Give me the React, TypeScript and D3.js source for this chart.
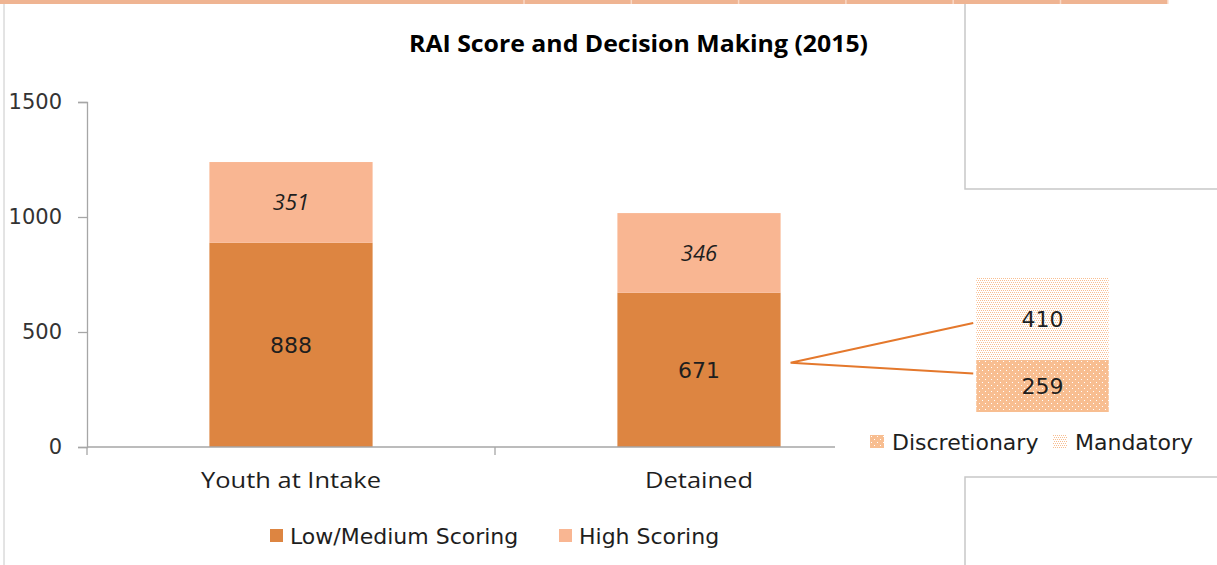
import React, { useEffect, useRef } from 'react';
import * as d3 from 'd3';

// chart values
const categories = ['Youth at Intake', 'Detained'];
const seriesNames = ['Low/Medium Scoring', 'High Scoring'];
const lowMedium = [888, 671];
const highScoring = [351, 346];
const yTicks = [0, 500, 1000, 1500];

const breakdownNames = ['Discretionary', 'Mandatory'];
const breakdownValues = [259, 410];

const W = 1217, H = 565;
const DARK = '#DD8541', LIGHT = '#F9B692', DISC = '#F8BE91', LINE = '#E4782C';
const AXIS = '#A6A6A6', TXT = '#1E1E1E';
const SANS = '"DejaVu Sans", Verdana, sans-serif';
const HUMAN = '"Open Sans", Lato, sans-serif';

export default function App() {
    const yAxisRef = useRef<SVGGElement>(null);

    const x = d3.scaleBand<string>().domain(categories).range([87, 903]).paddingInner(0.6).paddingOuter(0.3);
    const y = d3.scaleLinear().domain([0, 1500]).range([447, 102]);

    const rows = categories.map((c, i) => ({ cat: c, low: lowMedium[i], high: highScoring[i] }));
    const stacked = d3.stack<any>().keys(['low', 'high'])(rows);

    // inset chart for the detained breakdown
    const xi = d3.scaleBand<string>().domain(['Detained']).range([910, 1175]).paddingInner(0.5).paddingOuter(0.25);
    const yi = d3.scaleLinear().domain([0, 700]).range([412, 271.4]);
    const insetRow = [{ disc: breakdownValues[0], mand: breakdownValues[1] }];
    const insetStack = d3.stack<any>().keys(['disc', 'mand'])(insetRow);

    useEffect(() => {
        const g = d3.select(yAxisRef.current!);
        g.selectAll('*').remove();
        g.call(d3.axisLeft(y).tickValues(yTicks).tickSize(9).tickPadding(16).tickFormat(d3.format('d')) as any);
        g.selectAll('path, line').attr('stroke', AXIS).attr('stroke-width', 1.3);
        g.selectAll('text').attr('font-family', SANS).attr('font-size', 21).attr('fill', '#333');
    }, []);

    const step = x.step();
    const x0 = x.range()[0];
    const bounds = d3.range(categories.length + 1).map(i => x0 + i * step);

    const detX = x('Detained')! + x.bandwidth();
    const apex = [detX + 10, y(lowMedium[1] / 2) - 7];
    const insetLeft = xi('Detained')! - 3;
    const upperEnd = [insetLeft, yi(breakdownValues[0] + breakdownValues[1] * 0.45)];
    const lowerEnd = [insetLeft, yi(breakdownValues[0] * 0.74)];

    const sepXs = d3.range(524, 1168, 107.3);

    return (
        <svg width={W} height={H} style={{ position: 'absolute', left: 0, top: 0, background: '#fff' }}>
            <defs>
                <pattern id="disc" width="6" height="6" patternUnits="userSpaceOnUse">
                    <rect width="6" height="6" fill={DISC} />
                    <rect x="1" y="1" width="1" height="1" fill="#fff" />
                    <rect x="4" y="4" width="1" height="1" fill="#fff" />
                </pattern>
                <pattern id="mand" width="4" height="4" patternUnits="userSpaceOnUse">
                    <rect width="4" height="4" fill="#fff" />
                    <rect x="0" y="0" width="1" height="1" fill={DISC} />
                    <rect x="2" y="0" width="1" height="1" fill={DISC} />
                    <rect x="1" y="2" width="1" height="1" fill={DISC} />
                    <rect x="3" y="2" width="1" height="1" fill={DISC} />
                </pattern>
            </defs>

            {/* page furniture */}
            <rect x={0} y={0} width={1168} height={4} fill="#EFB492" />
            {sepXs.map((sx, i) => (
                <line key={i} x1={sx} x2={sx} y1={0} y2={4} stroke="#F9D9C6" strokeWidth={1.5} />
            ))}
            <line x1={4} x2={4} y1={4} y2={H} stroke="#C8C8C8" strokeWidth={1} />
            <path d={`M965,4V189H${W}`} fill="none" stroke="#C8C8C8" strokeWidth={1.5} />
            <path d={`M${W},477H965V${H}`} fill="none" stroke="#C8C8C8" strokeWidth={1.5} />

            <text x={638.5} y={52} textAnchor="middle" fontFamily={HUMAN} fontWeight="bold" fontSize={24}
                  textLength={459} lengthAdjust="spacingAndGlyphs" fill="#000">
                RAI Score and Decision Making (2015)
            </text>

            {/* main bars */}
            {stacked.map((s, si) => s.map((d, i) => (
                <rect key={`${si}-${i}`} x={x(categories[i])} y={y(d[1])} width={x.bandwidth()}
                      height={y(d[0]) - y(d[1])} fill={si === 0 ? DARK : LIGHT} />
            )))}
            {stacked.map((s, si) => s.map((d, i) => (
                <text key={`l${si}-${i}`} x={x(categories[i])! + x.bandwidth() / 2} y={(y(d[0]) + y(d[1])) / 2}
                      dy="0.36em" textAnchor="middle" fill={TXT}
                      fontFamily={si === 0 ? SANS : HUMAN} fontStyle={si === 0 ? 'normal' : 'italic'}
                      fontSize={22}>
                    {d[1] - d[0]}
                </text>
            )))}

            {/* axes */}
            <g ref={yAxisRef} transform="translate(87,0)" />
            <line x1={87} x2={903} y1={y(0)} y2={y(0)} stroke={AXIS} strokeWidth={1.3} />
            {bounds.map((bx, i) => (
                <line key={i} x1={bx} x2={bx} y1={y(0)} y2={y(0) + 8} stroke={AXIS} strokeWidth={1.3} />
            ))}
            {categories.map((c, i) => (
                <text key={c} x={x(c)! + x.bandwidth() / 2} y={488} textAnchor="middle" fontFamily={HUMAN}
                      fontSize={22.5} fill={TXT} textLength={i === 0 ? 180 : 108} lengthAdjust="spacingAndGlyphs">
                    {c}
                </text>
            ))}

            {/* legend */}
            {seriesNames.map((n, i) => (
                <g key={n} transform={`translate(${i === 0 ? 270 : 559},529)`}>
                    <rect width={13} height={13} fill={i === 0 ? DARK : LIGHT} />
                    <text x={20} y={15} fontFamily={SANS} fontSize={22} fill={TXT}>{n}</text>
                </g>
            ))}

            {/* inset: breakdown of detained low/medium */}
            <rect x={835} y={250} width={128} height={215} fill="#fff" />
            {insetStack.map((s, si) => (
                <g key={si}>
                    <rect x={xi('Detained')} y={yi(s[0][1])} width={xi.bandwidth()} height={yi(s[0][0]) - yi(s[0][1])}
                          fill={si === 0 ? 'url(#disc)' : 'url(#mand)'} />
                    <text x={xi('Detained')! + xi.bandwidth() / 2} y={(yi(s[0][0]) + yi(s[0][1])) / 2} dy="0.36em"
                          textAnchor="middle" fontFamily={SANS} fontSize={22} fill={TXT}>
                        {s[0][1] - s[0][0]}
                    </text>
                </g>
            ))}
            <polyline points={`${upperEnd.join(',')} ${apex.join(',')} ${lowerEnd.join(',')}`} fill="none"
                      stroke={LINE} strokeWidth={2} />
            {breakdownNames.map((n, i) => (
                <g key={n} transform={`translate(${i === 0 ? 870 : 1053},435)`}>
                    <rect width={14} height={13} fill={i === 0 ? 'url(#disc)' : 'url(#mand)'} />
                    <text x={22} y={15} fontFamily={SANS} fontSize={22} fill={TXT}>{n}</text>
                </g>
            ))}
        </svg>
    );
}
